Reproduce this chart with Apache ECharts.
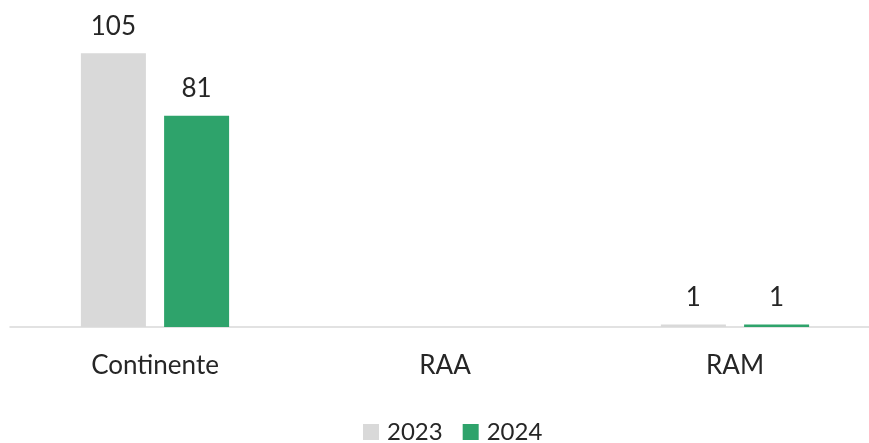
<!DOCTYPE html>
<html>
<head>
<meta charset="utf-8">
<script src="https://cdn.jsdelivr.net/npm/echarts@6/dist/echarts.min.js"></script>
<style>
  html, body { margin: 0; padding: 0; background: #fff; }
  #chart { width: 869px; height: 443px; }
</style>
</head>
<body>
<div id="chart"></div>
<script>
const categories = ["Continente", "RAA", "RAM"];
const values2023 = [105, null, 1];
const values2024 = [81, null, 1];

const chart = echarts.init(document.getElementById("chart"));
const font = "Lato, 'Noto Sans', sans-serif";

const labelStyle = {
  show: true,
  position: "top",
  distance: 14,
  color: "#262626",
  fontSize: 26,
  fontFamily: font
};

chart.setOption({
  animation: false,
  grid: { left: 10, right: -11, top: 14, bottom: 116, outerBoundsMode: "none" },
  legend: {
    top: 415,
    left: 358,
    itemWidth: 16,
    itemHeight: 16,
    itemGap: 20,
    icon: "rect",
    textStyle: { color: "#262626", fontSize: 24, fontFamily: font, padding: [0, 0, 0, 3] },
    data: ["2023", "2024"]
  },
  xAxis: {
    type: "category",
    data: categories,
    axisLine: { lineStyle: { color: "#d9d9d9", width: 1.5 } },
    axisTick: { show: false },
    axisLabel: { color: "#262626", fontSize: 26, fontFamily: font, margin: 26 }
  },
  yAxis: {
    type: "value",
    min: 0,
    max: 120,
    show: false,
    splitLine: { show: false }
  },
  series: [
    {
      name: "2023",
      type: "bar",
      data: values2023,
      barWidth: 65,
      barGap: "28%",
      itemStyle: { color: "#d9d9d9" },
      label: labelStyle
    },
    {
      name: "2024",
      type: "bar",
      data: values2024,
      barWidth: 65,
      itemStyle: { color: "#2ea36b" },
      label: labelStyle
    }
  ]
});
</script>
</body>
</html>
